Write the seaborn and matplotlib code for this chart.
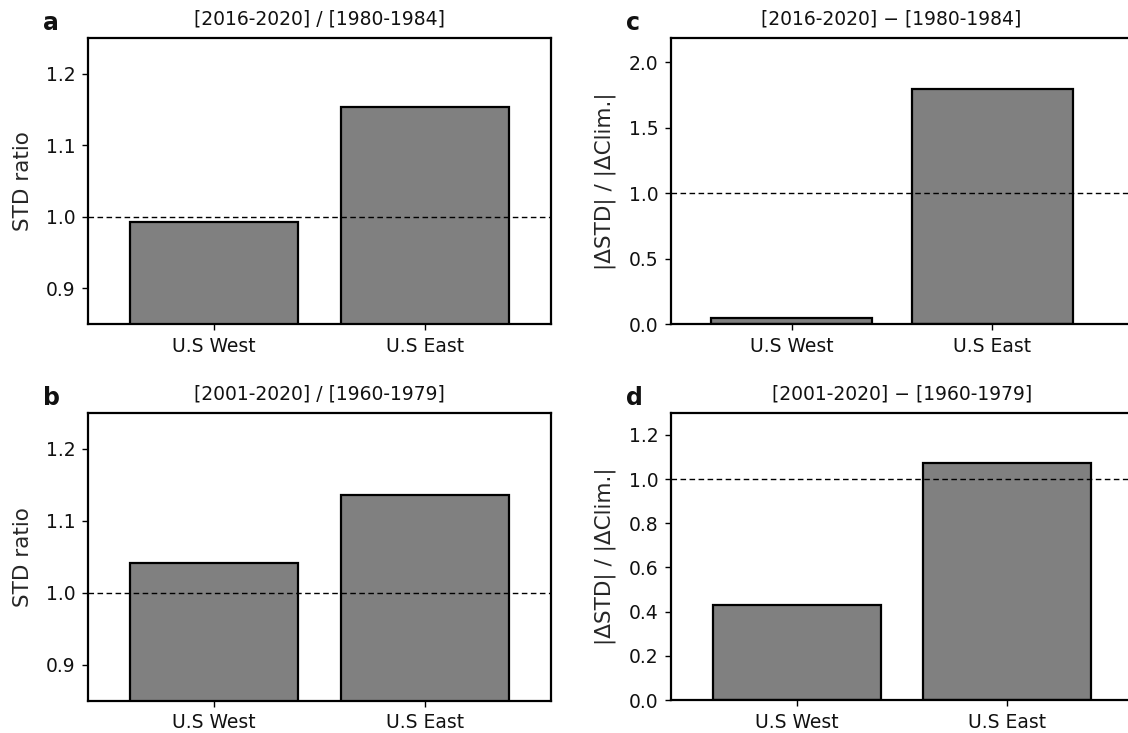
import matplotlib
matplotlib.use("Agg")
import matplotlib.pyplot as plt
import seaborn as sns

# Regions compared in every panel
regions = ["U.S West", "U.S East"]

# STD ratio, recent period over early period
ratio_5yr = [0.993, 1.153]    # [2016-2020] / [1980-1984]
ratio_20yr = [1.042, 1.136]   # [2001-2020] / [1960-1979]

# |ΔSTD| / |ΔClim.|
delta_5yr = [0.045, 1.80]     # [2016-2020] − [1980-1984]
delta_20yr = [0.428, 1.075]   # [2001-2020] − [1960-1979]

sns.set_theme(style="ticks")
plt.rcParams["font.family"] = ["DejaVu Sans"]
plt.rcParams["axes.linewidth"] = 1.6
plt.rcParams["xtick.major.width"] = 1.0
plt.rcParams["ytick.major.width"] = 1.0
plt.rcParams["xtick.major.size"] = 4.5
plt.rcParams["ytick.major.size"] = 4.5
plt.rcParams["xtick.major.pad"] = 4.5
plt.rcParams["ytick.major.pad"] = 4.5
plt.rcParams["xtick.labelsize"] = 13.5
plt.rcParams["ytick.labelsize"] = 13.5
plt.rcParams["axes.labelsize"] = 15.5
plt.rcParams["axes.titlesize"] = 13.5
plt.rcParams["axes.edgecolor"] = "black"
plt.rcParams["text.color"] = "#111111"
plt.rcParams["xtick.color"] = "black"
plt.rcParams["ytick.color"] = "black"
plt.rcParams["xtick.labelcolor"] = "#111111"
plt.rcParams["ytick.labelcolor"] = "#111111"

W, H = 1128, 733
fig = plt.figure(figsize=(W / 100, H / 100), dpi=100)


def add_axes(left, top, right, bottom):
    return fig.add_axes([left / W, (H - bottom) / H, (right - left) / W, (bottom - top) / H])


panels = [
    # values, title, ylabel, ylim, yticks, xlim, box (px), letter, title x
    (ratio_5yr, "[2016-2020] / [1980-1984]", "STD ratio", (0.85, 1.25),
     [0.9, 1.0, 1.1, 1.2], (-0.6, 1.6), (88, 38, 551, 324), "a", 0.5),
    (ratio_20yr, "[2001-2020] / [1960-1979]", "STD ratio", (0.85, 1.25),
     [0.9, 1.0, 1.1, 1.2], (-0.6, 1.6), (88, 413, 551, 700.5), "b", 0.5),
    (delta_5yr, "[2016-2020] \u2212 [1980-1984]", "|\u0394STD| / |\u0394Clim.|", (0, 2.185),
     [0.0, 0.5, 1.0, 1.5, 2.0], (-0.6, 1.7), (671, 38.3, 1133, 324), "c", 0.477),
    (delta_20yr, "[2001-2020] \u2212 [1960-1979]", "|\u0394STD| / |\u0394Clim.|", (0, 1.298),
     [0.0, 0.2, 0.4, 0.6, 0.8, 1.0, 1.2], (-0.6, 1.6), (671, 413.3, 1133, 700), "d", 0.5),
]

for vals, title, ylabel, ylim, yticks, xlim, box, letter, tx in panels:
    ax = add_axes(*box)
    sns.barplot(x=regions, y=vals, ax=ax, color="#808080", saturation=1,
                edgecolor="black", linewidth=1.6, width=0.8, zorder=2)
    ax.axhline(1.0, color="black", linestyle="--", linewidth=1.0,
               dashes=(4, 2.5), zorder=3)
    ax.set_ylim(*ylim)
    ax.set_xlim(*xlim)
    ax.set_yticks(yticks)
    ax.set_yticklabels([f"{t:.1f}" for t in yticks])
    ax.set_xlabel("")
    ax.set_ylabel(ylabel, labelpad=9)
    ax.set_title(title, x=tx, pad=10)
    for sp in ax.spines.values():
        sp.set_visible(True)
        sp.set_zorder(4)
    ax.text(-0.098, 1.012, letter, transform=ax.transAxes, fontsize=17,
            fontweight="bold", ha="left", va="bottom")

fig.savefig("out.png", dpi=100)
